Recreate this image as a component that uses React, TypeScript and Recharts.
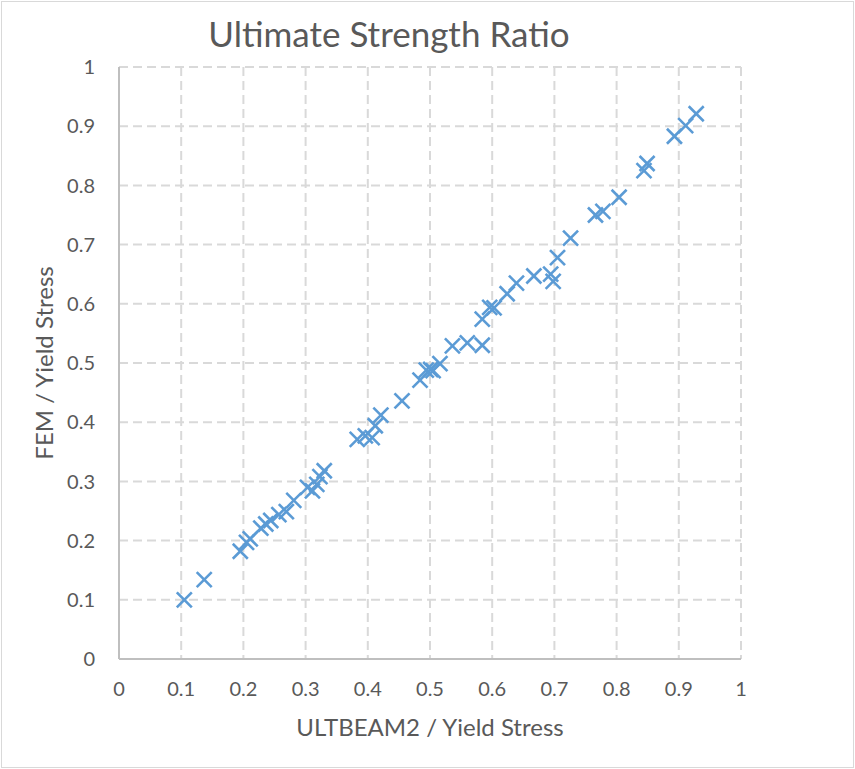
import React from "react";
import {
  ScatterChart,
  Scatter,
  XAxis,
  YAxis,
  CartesianGrid,
  Label,
} from "recharts";

// ULTBEAM2 / Yield Stress
const ultbeamRatio: number[] = [
  0.105, 0.137, 0.195, 0.205, 0.211, 0.228, 0.236, 0.244, 0.257, 0.269,
  0.281, 0.303, 0.311, 0.318, 0.323, 0.33, 0.383, 0.396, 0.407, 0.412,
  0.421, 0.455, 0.484, 0.494, 0.501, 0.505, 0.516, 0.536, 0.56, 0.584,
  0.584, 0.596, 0.603, 0.624, 0.639, 0.667, 0.694, 0.698, 0.705, 0.726,
  0.766, 0.778, 0.804, 0.844, 0.849, 0.893, 0.911, 0.928,
];

// FEM / Yield Stress
const femRatio: number[] = [
  0.1, 0.134, 0.182, 0.197, 0.203, 0.221, 0.228, 0.234, 0.244, 0.249,
  0.268, 0.29, 0.284, 0.295, 0.308, 0.318, 0.371, 0.377, 0.374, 0.394,
  0.412, 0.436, 0.471, 0.488, 0.489, 0.487, 0.499, 0.529, 0.534, 0.53,
  0.574, 0.594, 0.593, 0.617, 0.635, 0.647, 0.65, 0.638, 0.678, 0.711,
  0.75, 0.756, 0.78, 0.825, 0.837, 0.883, 0.901, 0.921,
];

const axisTicks: number[] = [0, 0.1, 0.2, 0.3, 0.4, 0.5, 0.6, 0.7, 0.8, 0.9, 1];

const points = ultbeamRatio.map((x, i) => ({ x, y: femRatio[i] }));

const FONT = "Lato, 'Open Sans', sans-serif";
const TEXT = "#595959";
const MARK = "#5b9bd5";

const CrossMarker = (props: any) => {
  const { cx, cy } = props;
  if (cx == null || cy == null) return null;
  const r = 7.5;
  return (
    <g stroke={MARK} strokeWidth={2.6} strokeLinecap="butt">
      <line x1={cx - r} y1={cy - r} x2={cx + r} y2={cy + r} />
      <line x1={cx - r} y1={cy + r} x2={cx + r} y2={cy - r} />
    </g>
  );
};

export default function App() {
  return (
    <div
      style={{
        position: "absolute",
        left: 0,
        top: 0,
        width: 855,
        height: 769,
        background: "#fff",
      }}
    >
      <div
        style={{
          position: "absolute",
          left: 1,
          top: 1,
          width: 851,
          height: 765,
          border: "1px solid #d9d9d9",
        }}
      />
      <div
        style={{
          position: "absolute",
          left: 0,
          top: 11,
          width: 778,
          textAlign: "center",
          fontFamily: FONT,
          fontSize: 35,
          color: TEXT,
          lineHeight: "44px",
        }}
      >
        Ultimate Strength Ratio
      </div>
      <div style={{ position: "absolute", left: 0, top: 0 }}>
        <ScatterChart
          width={855}
          height={769}
          margin={{ top: 67, right: 114, bottom: 70, left: 0 }}
        >
          <CartesianGrid
            stroke="#d9d9d9"
            strokeWidth={2}
            strokeDasharray="9 5"
            horizontal
            vertical
          />
          <XAxis
            type="number"
            dataKey="x"
            domain={[0, 1]}
            ticks={axisTicks}
            interval={0}
            height={40}
            tickLine={false}
            axisLine={{ stroke: "#bfbfbf", strokeWidth: 2 }}
            tickMargin={17}
            tick={{ fill: TEXT, fontSize: 20, fontFamily: FONT }}
            tickFormatter={(v: number) => String(v)}
          >
            <Label
              value="ULTBEAM2 / Yield Stress"
              position="bottom"
              offset={20}
              style={{ fill: TEXT, fontSize: 24, fontFamily: FONT }}
            />
          </XAxis>
          <YAxis
            type="number"
            dataKey="y"
            domain={[0, 1]}
            ticks={axisTicks}
            interval={0}
            width={119}
            tickLine={false}
            axisLine={{ stroke: "#bfbfbf", strokeWidth: 2 }}
            tickMargin={18}
            tick={{ fill: TEXT, fontSize: 20, fontFamily: FONT }}
            tickFormatter={(v: number) => String(v)}
          >
            <Label
              value="FEM / Yield Stress"
              angle={-90}
              position="insideLeft"
              offset={44}
              style={{
                fill: TEXT,
                fontSize: 24,
                fontFamily: FONT,
                textAnchor: "middle",
              }}
            />
          </YAxis>
          <Scatter
            data={points}
            shape={CrossMarker}
            isAnimationActive={false}
          />
        </ScatterChart>
      </div>
    </div>
  );
}
